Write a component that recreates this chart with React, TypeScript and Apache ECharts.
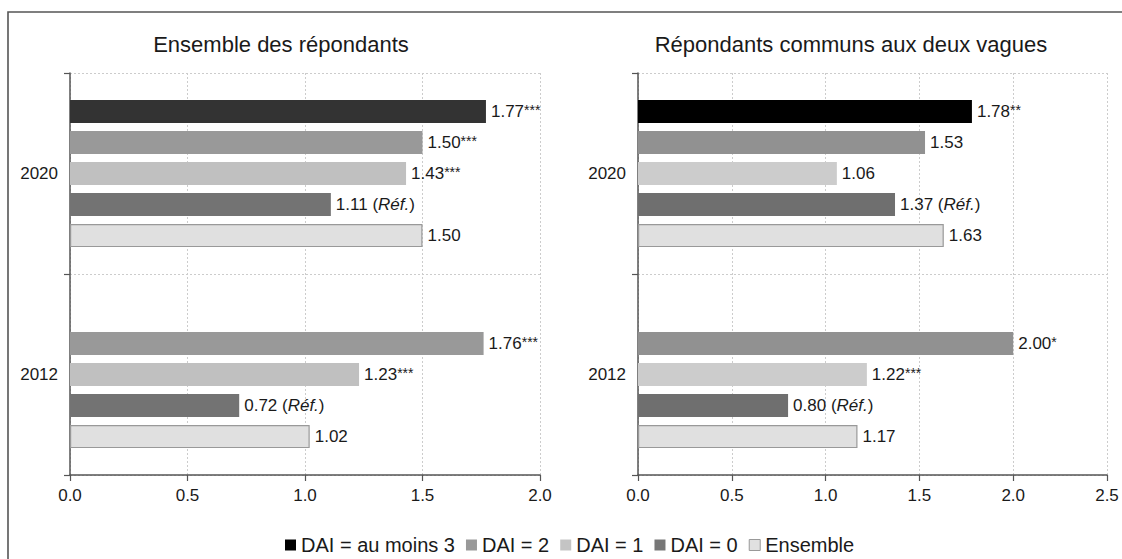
import React, { useEffect, useRef } from "react";
import * as echarts from "echarts";

const categories = ["2012", "2020"];
const seriesNames = ["DAI = au moins 3", "DAI = 2", "DAI = 1", "DAI = 0", "Ensemble"];

// Ensemble des répondants
const leftDai3 = [null, 1.77];
const leftDai2 = [1.76, 1.5];
const leftDai1 = [1.23, 1.43];
const leftDai0 = [0.72, 1.11];
const leftEns = [1.02, 1.5];
const leftStars = [
  ["", "***"],
  ["***", "***"],
  ["***", "***"],
  ["ref", "ref"],
  ["", ""],
];

// Répondants communs aux deux vagues
const rightDai3 = [null, 1.78];
const rightDai2 = [2.0, 1.53];
const rightDai1 = [1.22, 1.06];
const rightDai0 = [0.8, 1.37];
const rightEns = [1.17, 1.63];
const rightStars = [
  ["", "**"],
  ["*", ""],
  ["***", ""],
  ["ref", "ref"],
  ["", ""],
];

const leftTicks = { min: 0, max: 2, interval: 0.5 };
const rightTicks = { min: 0, max: 2.5, interval: 0.5 };

const leftColors = ["#333333", "#999999", "#c0c0c0", "#737373", "#e0e0e0"];
const rightColors = ["#000000", "#919191", "#cccccc", "#6f6f6f", "#e0e0e0"];
const legendColors = ["#000000", "#999999", "#c4c4c4", "#777777", "#e0e0e0"];

const FONT = "'Liberation Sans', Arial, sans-serif";
const TXT = "#1a1a1a";

export default function App() {
  const ref = useRef<HTMLDivElement>(null);
  useEffect(() => {
    if (!ref.current) return;
    const chart = echarts.init(ref.current, null, { renderer: "svg" });

    const makeSeries = (
      data: (number | null)[][],
      colors: string[],
      stars: string[][],
      gridIndex: number
    ) =>
      data.map((d, i) => ({
        name: seriesNames[i],
        type: "bar",
        xAxisIndex: gridIndex,
        yAxisIndex: gridIndex,
        barWidth: 23,
        barGap: "35%",
        data: d.map((v) => (v === null ? "-" : v)),
        itemStyle: {
          color: colors[i],
          borderColor: i === 4 ? "#999999" : colors[i],
          borderWidth: i === 4 ? 1.2 : 0,
        },
        label: {
          show: true,
          position: "right",
          distance: 5,
          formatter: (p: any) => {
            const s = stars[i][p.dataIndex];
            const v = Number(p.value).toFixed(2);
            if (s === "ref") return `{v|${v} (}{i|Réf.}{v|)}`;
            if (s) return `{v|${v}}{s|${s}}`;
            return `{v|${v}}`;
          },
          rich: {
            v: { fontSize: 17, color: TXT, fontFamily: FONT },
            i: { fontSize: 17, color: TXT, fontFamily: FONT, fontStyle: "italic" },
            s: { fontSize: 14, color: TXT, fontFamily: FONT, verticalAlign: "top", lineHeight: 17 },
          },
        },
      }));

    const xAxisBase = (t: { min: number; max: number; interval: number }, gi: number) => ({
      type: "value",
      gridIndex: gi,
      min: t.min,
      max: t.max,
      interval: t.interval,
      axisLine: { show: true, lineStyle: { color: "#555555", width: 1.5 } },
      axisTick: { show: true, length: 6, lineStyle: { color: "#555555", width: 1.2 } },
      axisLabel: {
        margin: 12,
        fontSize: 17,
        color: TXT,
        fontFamily: FONT,
        formatter: (v: number) => v.toFixed(1),
      },
      splitLine: { show: true, lineStyle: { color: "#cccccc", type: [2, 2], width: 1 } },
    });

    const yAxisBase = (gi: number) => ({
      type: "category",
      gridIndex: gi,
      data: categories,
      axisLine: { show: true, lineStyle: { color: "#555555", width: 1.5 } },
      axisTick: { show: true, length: 6, lineStyle: { color: "#555555", width: 1.2 } },
      axisLabel: { margin: 12, fontSize: 17, color: TXT, fontFamily: FONT },
      splitLine: { show: true, lineStyle: { color: "#cccccc", type: [2, 2], width: 1 } },
    });

    chart.setOption({
      animation: false,
      grid: [
        { left: 70, top: 73, width: 470, height: 402, containLabel: false },
        { left: 638, top: 73, width: 469, height: 402, containLabel: false },
      ],
      xAxis: [xAxisBase(leftTicks, 0), xAxisBase(rightTicks, 1)],
      yAxis: [yAxisBase(0), yAxisBase(1)],
      legend: {
        left: 285,
        top: 535,
        padding: 0,
        itemWidth: 11,
        itemHeight: 11,
        itemGap: 11,
        icon: "rect",
        textStyle: { fontSize: 20, lineHeight: 20, color: TXT, fontFamily: FONT },
        data: seriesNames.map((n, i) => ({
          name: n,
          itemStyle: {
            color: legendColors[i],
            borderColor: i === 4 ? "#999999" : legendColors[i],
            borderWidth: i === 4 ? 1 : 0,
          },
        })),
      },
      graphic: [
        {
          type: "rect",
          silent: true,
          shape: { x: 8, y: 12, width: 1200, height: 700 },
          style: { fill: "none", stroke: "#555555", lineWidth: 1.6 },
        },
        {
          type: "text",
          x: 281,
          y: 44,
          style: {
            text: "Ensemble des répondants",
            fontSize: 22,
            fontFamily: FONT,
            fill: TXT,
            align: "center",
            verticalAlign: "middle",
          },
        },
        {
          type: "text",
          x: 851,
          y: 44,
          style: {
            text: "Répondants communs aux deux vagues",
            fontSize: 22,
            fontFamily: FONT,
            fill: TXT,
            align: "center",
            verticalAlign: "middle",
          },
        },
      ],
      series: [
        ...makeSeries([leftDai3, leftDai2, leftDai1, leftDai0, leftEns], leftColors, leftStars, 0),
        ...makeSeries([rightDai3, rightDai2, rightDai1, rightDai0, rightEns], rightColors, rightStars, 1),
      ],
    });
    return () => chart.dispose();
  }, []);
  return (
    <div
      ref={ref}
      style={{ position: "fixed", left: 0, top: 0, width: 1122, height: 559, background: "#ffffff" }}
    />
  );
}
